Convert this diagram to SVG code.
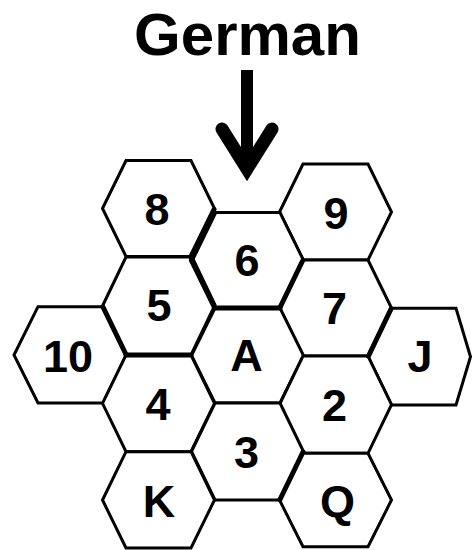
<svg xmlns="http://www.w3.org/2000/svg" width="472" height="550" viewBox="0 0 472 550">
<defs>
<style>
.hex{fill:#fff;stroke:#000;stroke-width:3;stroke-linejoin:miter}
.lbl{font-family:"Liberation Sans",Arial,sans-serif;font-weight:bold;font-size:45px;text-anchor:middle;fill:#000}
.title{font-family:"Liberation Sans",Arial,sans-serif;font-weight:bold;font-size:60px;text-anchor:middle;fill:#000}
.arrow{fill:none;stroke:#000;stroke-width:13}
.bold-edge{fill:none;stroke:#000;stroke-width:5;stroke-linecap:round}
</style>
</defs>
<rect width="472" height="550" fill="#fff"/>
<g id="title"><text class="title" x="247.5" y="55">German</text></g>
<g id="connectors">
<line class="arrow" x1="247" y1="70" x2="247" y2="172" style="stroke-width:12"/>
<polyline class="arrow" points="222,129 247,169 272,129" style="stroke-linecap:round;stroke-linejoin:miter"/>
</g>
<g id="node-8"><polygon class="hex" points="102.5,208.5 126,160.5 191,160.5 214.5,208.5 191,256.5 126,256.5"/><text class="lbl" x="157" y="224.5">8</text></g>
<g id="node-9"><polygon class="hex" points="279.5,212 303,164 368,164 391.5,212 368,260 303,260"/><text class="lbl" x="336" y="229">9</text></g>
<g id="node-6"><polygon class="hex" points="191.5,260.3 215,212.5 280,212.5 303.5,260.3 280,308 215,308"/><text class="lbl" x="247" y="275.5">6</text></g>
<g id="node-5"><polygon class="hex" points="102.5,306 126,257 191,257 214.5,306 191,355 126,355"/><text class="lbl" x="159" y="320.5">5</text></g>
<g id="node-7"><polygon class="hex" points="279.5,308 303,260 368,260 391.5,308 368,356 303,356"/><text class="lbl" x="334.5" y="324">7</text></g>
<g id="node-10"><polygon class="hex" points="14,355 38,306.7 103,306.7 126.5,355 103,403 38,403"/><text class="lbl" x="68" y="371.5">10</text></g>
<g id="node-A"><polygon class="hex" points="191.5,355.5 215,308 280,308 303.5,355.5 280,403 215,403"/><text class="lbl" x="246.5" y="371">A</text></g>
<g id="node-J"><polygon class="hex" points="368,356.7 391.5,308.3 456,308.3 470.5,356.7 456,405 391.5,405"/><text class="lbl" x="420" y="372">J</text></g>
<g id="node-4"><polygon class="hex" points="102.5,403.3 126,355 191,355 214.5,403.3 191,451.7 126,451.7"/><text class="lbl" x="158" y="420">4</text></g>
<g id="node-2"><polygon class="hex" points="279.5,404.7 303,356 368,356 391.5,404.7 368,453.3 303,453.3"/><text class="lbl" x="334.5" y="420.5">2</text></g>
<g id="node-3"><polygon class="hex" points="191.5,451.5 215,403 280,403 303.5,451.5 280,500 215,500"/><text class="lbl" x="246.5" y="467.5">3</text></g>
<g id="node-K"><polygon class="hex" points="102.5,500 126,451.7 191,451.7 214.5,500 191,548 126,548"/><text class="lbl" x="159" y="516.5">K</text></g>
<g id="node-Q"><polygon class="hex" points="279.5,500 303,453.3 368,453.3 391.5,500 368,546.7 303,546.7"/><text class="lbl" x="337.5" y="516.5">Q</text></g>
<g id="shared-edges">
<line class="bold-edge" x1="214" y1="209.5" x2="191" y2="256.5"/>
<line class="bold-edge" x1="191" y1="257" x2="214" y2="305"/>
<line class="bold-edge" x1="214.5" y1="213" x2="191.5" y2="260"/>
<line class="bold-edge" x1="191.5" y1="260.5" x2="214.5" y2="307.5"/>
<line class="bold-edge" x1="215" y1="308" x2="280" y2="308"/>
<line class="bold-edge" x1="126" y1="355" x2="191" y2="355"/>
<line class="bold-edge" x1="103" y1="307" x2="126" y2="354.5"/>
<line class="bold-edge" x1="302.5" y1="261" x2="280" y2="307.5"/>
<line class="bold-edge" x1="391" y1="309" x2="368.5" y2="356"/>
<line class="bold-edge" x1="303" y1="452" x2="280" y2="499.5"/>
</g>
</svg>
